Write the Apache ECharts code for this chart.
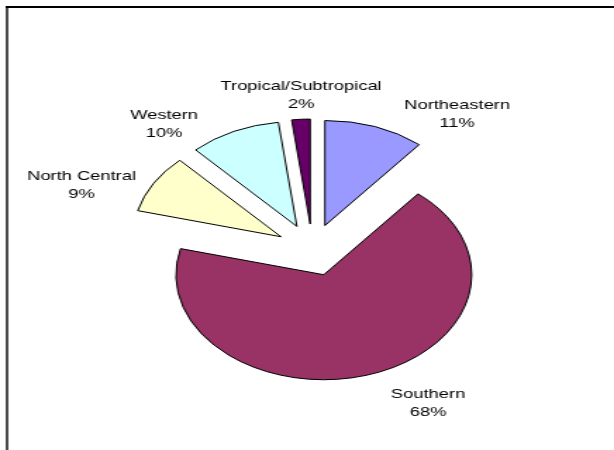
<!DOCTYPE html>
<html>
<head>
<meta charset="utf-8">
<script src="https://cdn.jsdelivr.net/npm/echarts@6/dist/echarts.min.js"></script>
<style>
  html, body { margin: 0; padding: 0; background: #fff; overflow: hidden; }
  /* the chart is drawn in a narrower box and widened, giving the oval pie */
  #chart { width: 436px; height: 450px; transform: scaleX(1.40826); transform-origin: 0 0; }
</style>
</head>
<body>
<div id="chart"></div>
<script>
// Share of total by region (%)
const regions = ['Northeastern', 'Southern', 'North Central', 'Western', 'Tropical/Subtropical'];
const shares = [11, 68, 9, 10, 2];
const sliceColors = ['#9999FF', '#993366', '#FFFFCC', '#CCFFFF', '#660066'];

// where each two-line label block is centred (chart box pixels)
const labelAnchors = [[324.6, 114], [304, 403], [57.9, 185], [116.5, 124.5], [213.8, 95]];

const pieCenter = [221.9, 250];
const pieRadius = 105;

const chart = echarts.init(document.getElementById('chart'), null, { renderer: 'canvas' });

chart.setOption({
  animation: false,
  backgroundColor: '#ffffff',
  graphic: [
    { type: 'line', shape: { x1: 4, y1: 7, x2: 440, y2: 7 }, style: { stroke: '#000', lineWidth: 2 } },
    { type: 'line', shape: { x1: 5, y1: 6, x2: 5, y2: 460 }, style: { stroke: '#000', lineWidth: 1.4 } }
  ],
  series: [
    {
      // exploded slices
      type: 'pie',
      center: pieCenter,
      radius: pieRadius,
      startAngle: 90,
      clockwise: true,
      selectedMode: 'multiple',
      selectedOffset: 26,
      emphasis: { disabled: true },
      itemStyle: { borderColor: '#000', borderWidth: 1 },
      label: { show: false },
      labelLine: { show: false },
      data: regions.map((name, i) => ({
        name: name,
        value: shares[i],
        selected: true,
        itemStyle: { color: sliceColors[i] }
      }))
    },
    {
      // category name and percentage for each slice
      type: 'pie',
      silent: true,
      center: pieCenter,
      radius: pieRadius,
      startAngle: 90,
      clockwise: true,
      avoidLabelOverlap: false,
      emphasis: { disabled: true },
      itemStyle: { color: 'rgba(0,0,0,0)', borderWidth: 0 },
      label: {
        show: true,
        formatter: '{b}\n{d}%',
        color: '#000',
        fontFamily: 'Liberation Sans, Arial, sans-serif',
        fontSize: 13,
        lineHeight: 18,
        align: 'center'
      },
      labelLine: { show: false },
      labelLayout: function (params) {
        const p = labelAnchors[params.dataIndex];
        return { x: p[0], y: p[1], align: 'center', verticalAlign: 'middle', hideOverlap: false };
      },
      data: regions.map((name, i) => ({ name: name, value: shares[i] }))
    }
  ]
});
</script>
</body>
</html>
